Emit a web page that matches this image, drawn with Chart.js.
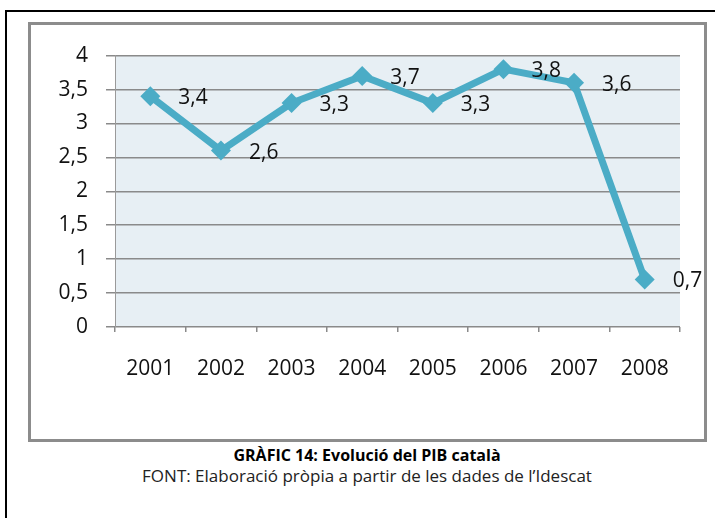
<!DOCTYPE html>
<html>
<head>
<meta charset="utf-8">
<script src="https://cdn.jsdelivr.net/npm/chart.js@4"></script>
<style>
  body { margin: 0; background: #fff; width: 715px; height: 518px; overflow: hidden; position: relative; }
  #outer { position: absolute; left: 5px; top: 10px; width: 800px; height: 600px; border: 2px solid #000; }
  #box { position: absolute; left: 28px; top: 22px; width: 673px; height: 414px; border: 3px solid #8c8c8c; }
  #box canvas { position: absolute; left: 0; top: 0; }
  .cap { position: absolute; left: 0; width: 734px; text-align: center; font-family: "Open Sans", sans-serif; color: #000; line-height: 22px; white-space: nowrap; }
  #title { top: 444px; font-weight: bold; font-size: 16px; }
  #source { top: 465px; font-size: 17px; color: #222; }
</style>
</head>
<body>
<div id="outer"></div>
<div id="box"><canvas id="mycanvas" width="673" height="414"></canvas></div>
<div class="cap" id="title">GRÀFIC 14: Evolució del PIB català</div>
<div class="cap" id="source">FONT: Elaboració pròpia a partir de les dades de l’Idescat</div>
<script>
var years = ['2001', '2002', '2003', '2004', '2005', '2006', '2007', '2008'];
var pib = [3.4, 2.6, 3.3, 3.7, 3.3, 3.8, 3.6, 0.7];

var fmt = function(v) { return String(v).replace('.', ','); };

// light plot background
var plotBg = {
  id: 'plotBg',
  beforeDraw: function(chart) {
    var a = chart.chartArea, c = chart.ctx;
    c.save();
    c.fillStyle = '#e7eff4';
    c.fillRect(a.left, a.top, a.right - a.left, a.bottom - a.top);
    c.restore();
  }
};

// value labels to the right of each point
var valueLabels = {
  id: 'valueLabels',
  afterDatasetsDraw: function(chart) {
    var c = chart.ctx;
    var meta = chart.getDatasetMeta(0);
    c.save();
    c.font = '21px "Open Sans"';
    c.fillStyle = '#111';
    c.textAlign = 'left';
    c.textBaseline = 'middle';
    meta.data.forEach(function(pt, i) {
      c.fillText(fmt(pib[i]), pt.x + 28, pt.y + 2);
    });
    c.restore();
  }
};

var ctx = document.getElementById('mycanvas');
var LineGraph = new Chart(ctx, {
  type: 'line',
  data: {
    labels: years,
    datasets: [{
      data: pib,
      borderColor: '#4bacc6',
      backgroundColor: '#4bacc6',
      borderWidth: 7,
      tension: 0,
      fill: false,
      pointStyle: 'rectRot',
      pointRadius: 10,
      pointBorderWidth: 0,
      clip: false
    }]
  },
  options: {
    responsive: false,
    animation: false,
    layout: { padding: { left: 0, right: 24, top: 8, bottom: 0 } },
    plugins: { legend: { display: false }, tooltip: { enabled: false } },
    scales: {
      x: {
        offset: true,
        grid: { offset: true, drawOnChartArea: false, drawTicks: true, tickLength: 5, color: '#8a8a8a', lineWidth: 1.5 },
        border: { display: false },
        ticks: { color: '#111', padding: 24, font: { family: 'Open Sans', size: 21 }, maxRotation: 0 },
        afterFit: function(s) { s.height = 112; }
      },
      y: {
        min: 0,
        max: 4,
        ticks: { stepSize: 0.5, color: '#111', padding: 18, font: { family: 'Open Sans', size: 21 }, callback: function(v) { return fmt(v); } },
        grid: { color: '#8a8a8a', lineWidth: 1.5, tickLength: 9 },
        border: { display: true, color: '#9a9a9a', width: 1 },
        afterFit: function(s) { s.width = 84; }
      }
    }
  },
  plugins: [plotBg, valueLabels]
});
</script>
</body>
</html>
